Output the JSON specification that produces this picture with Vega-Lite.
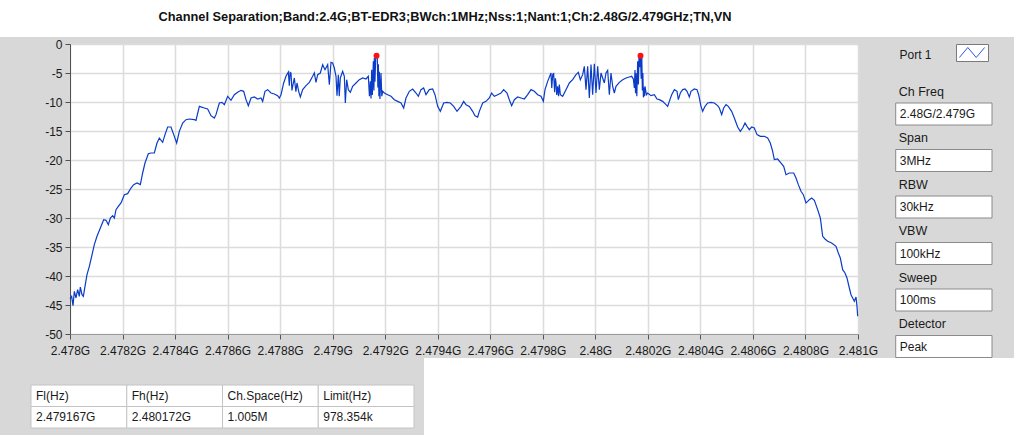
{
  "$schema": "https://vega.github.io/schema/vega-lite/v6.json",
  "background": "#d8d8d8",
  "padding": 0,
  "spacing": 0,
  "config": {"font": "Liberation Sans", "view": {"stroke": null}},
  "datasets": {
    "heading": [{"title": "Channel Separation;Band:2.4G;BT-EDR3;BWch:1MHz;Nss:1;Nant:1;Ch:2.48G/2.479GHz;TN,VN"}],
    "peaks": [{"freq": 2479.167, "level": -2.01}, {"freq": 2480.172, "level": -2.01}],
    "port": [{"name": "Port 1"}],
    "icon": [{"step": 0, "shape": 0}, {"step": 1, "shape": 1}, {"step": 2, "shape": 0}, {"step": 3, "shape": 1}],
    "params": [
      {"param": "Ch Freq", "value": "2.48G/2.479G"},
      {"param": "Span", "value": "3MHz"},
      {"param": "RBW", "value": "30kHz"},
      {"param": "VBW", "value": "100kHz"},
      {"param": "Sweep", "value": "100ms"},
      {"param": "Detector", "value": "Peak"}
    ],
    "table": [
      {"column": "Fl(Hz)", "row": "header", "text": "Fl(Hz)"},
      {"column": "Fh(Hz)", "row": "header", "text": "Fh(Hz)"},
      {"column": "Ch.Space(Hz)", "row": "header", "text": "Ch.Space(Hz)"},
      {"column": "Limit(Hz)", "row": "header", "text": "Limit(Hz)"},
      {"column": "Fl(Hz)", "row": "value", "text": "2.479167G"},
      {"column": "Fh(Hz)", "row": "value", "text": "2.480172G"},
      {"column": "Ch.Space(Hz)", "row": "value", "text": "1.005M"},
      {"column": "Limit(Hz)", "row": "value", "text": "978.354k"}
    ],
    "spectrum": [
      {"freq": 2478.0000, "level": -43.97}, {"freq": 2478.0063, "level": -43.51}, {"freq": 2478.0114, "level": -45.11},
      {"freq": 2478.0165, "level": -42.64}, {"freq": 2478.0228, "level": -43.79}, {"freq": 2478.0292, "level": -42.36},
      {"freq": 2478.0355, "level": -43.51}, {"freq": 2478.0393, "level": -41.90}, {"freq": 2478.0457, "level": -43.22},
      {"freq": 2478.0508, "level": -43.51}, {"freq": 2478.0571, "level": -41.78}, {"freq": 2478.0647, "level": -39.77},
      {"freq": 2478.0736, "level": -38.33}, {"freq": 2478.0825, "level": -36.61}, {"freq": 2478.0926, "level": -34.60},
      {"freq": 2478.1028, "level": -33.16}, {"freq": 2478.1155, "level": -31.72}, {"freq": 2478.1282, "level": -30.29},
      {"freq": 2478.1371, "level": -30.40}, {"freq": 2478.1459, "level": -31.15}, {"freq": 2478.1536, "level": -30.00},
      {"freq": 2478.1624, "level": -29.60}, {"freq": 2478.1688, "level": -30.00}, {"freq": 2478.1751, "level": -28.56},
      {"freq": 2478.1840, "level": -27.99}, {"freq": 2478.1942, "level": -27.41}, {"freq": 2478.2069, "level": -25.98},
      {"freq": 2478.2195, "level": -25.80}, {"freq": 2478.2322, "level": -24.83}, {"freq": 2478.2424, "level": -24.25},
      {"freq": 2478.2551, "level": -23.97}, {"freq": 2478.2678, "level": -24.25}, {"freq": 2478.2766, "level": -22.24},
      {"freq": 2478.2855, "level": -20.52}, {"freq": 2478.2982, "level": -18.91}, {"freq": 2478.3084, "level": -18.79},
      {"freq": 2478.3211, "level": -18.79}, {"freq": 2478.3312, "level": -17.07}, {"freq": 2478.3401, "level": -16.21},
      {"freq": 2478.3528, "level": -16.95}, {"freq": 2478.3617, "level": -15.63}, {"freq": 2478.3718, "level": -14.31},
      {"freq": 2478.3845, "level": -14.31}, {"freq": 2478.3972, "level": -15.92}, {"freq": 2478.4061, "level": -17.07},
      {"freq": 2478.4162, "level": -15.06}, {"freq": 2478.4289, "level": -13.62}, {"freq": 2478.4416, "level": -13.05},
      {"freq": 2478.4543, "level": -12.93}, {"freq": 2478.4734, "level": -13.05}, {"freq": 2478.4797, "level": -13.16},
      {"freq": 2478.4924, "level": -10.75}, {"freq": 2478.5114, "level": -11.03}, {"freq": 2478.5241, "level": -11.21},
      {"freq": 2478.5368, "level": -12.36}, {"freq": 2478.5495, "level": -12.76}, {"freq": 2478.5558, "level": -12.18},
      {"freq": 2478.5685, "level": -10.17}, {"freq": 2478.5787, "level": -10.06}, {"freq": 2478.5876, "level": -10.46},
      {"freq": 2478.6003, "level": -9.02}, {"freq": 2478.6129, "level": -9.71}, {"freq": 2478.6256, "level": -8.74},
      {"freq": 2478.6383, "level": -8.33}, {"freq": 2478.6510, "level": -7.99}, {"freq": 2478.6612, "level": -8.16},
      {"freq": 2478.6701, "level": -9.60}, {"freq": 2478.6789, "level": -10.63}, {"freq": 2478.6891, "level": -9.31},
      {"freq": 2478.7018, "level": -9.14}, {"freq": 2478.7145, "level": -9.48}, {"freq": 2478.7272, "level": -9.31},
      {"freq": 2478.7335, "level": -9.89}, {"freq": 2478.7424, "level": -8.16}, {"freq": 2478.7525, "level": -7.87},
      {"freq": 2478.7652, "level": -8.45}, {"freq": 2478.7779, "level": -8.62}, {"freq": 2478.7906, "level": -8.91},
      {"freq": 2478.7970, "level": -9.31}, {"freq": 2478.8033, "level": -8.74}, {"freq": 2478.8135, "level": -6.72},
      {"freq": 2478.8223, "level": -5.57}, {"freq": 2478.8312, "level": -4.83}, {"freq": 2478.8350, "level": -7.20},
      {"freq": 2478.8380, "level": -4.90}, {"freq": 2478.8414, "level": -5.00}, {"freq": 2478.8450, "level": -8.00},
      {"freq": 2478.8477, "level": -7.30}, {"freq": 2478.8541, "level": -5.86}, {"freq": 2478.8600, "level": -8.20},
      {"freq": 2478.8642, "level": -6.72}, {"freq": 2478.8706, "level": -8.16}, {"freq": 2478.8769, "level": -9.14},
      {"freq": 2478.8858, "level": -7.87}, {"freq": 2478.8985, "level": -7.18}, {"freq": 2478.9112, "level": -6.61},
      {"freq": 2478.9239, "level": -5.57}, {"freq": 2478.9302, "level": -5.00}, {"freq": 2478.9365, "level": -6.61},
      {"freq": 2478.9429, "level": -5.29}, {"freq": 2478.9530, "level": -5.00}, {"freq": 2478.9619, "level": -3.56},
      {"freq": 2478.9708, "level": -4.43}, {"freq": 2478.9810, "level": -3.56}, {"freq": 2478.9873, "level": -7.01},
      {"freq": 2478.9937, "level": -3.16}, {"freq": 2479.0000, "level": -3.28}, {"freq": 2479.0063, "level": -4.14},
      {"freq": 2479.0127, "level": -5.57}, {"freq": 2479.0165, "level": -8.91}, {"freq": 2479.0216, "level": -5.29},
      {"freq": 2479.0250, "level": -9.00}, {"freq": 2479.0292, "level": -5.86}, {"freq": 2479.0381, "level": -4.71},
      {"freq": 2479.0444, "level": -5.57}, {"freq": 2479.0482, "level": -10.17}, {"freq": 2479.0533, "level": -6.15},
      {"freq": 2479.0596, "level": -7.87}, {"freq": 2479.0673, "level": -8.33}, {"freq": 2479.0761, "level": -7.30},
      {"freq": 2479.0888, "level": -6.72}, {"freq": 2479.1015, "level": -6.15}, {"freq": 2479.1142, "level": -5.86},
      {"freq": 2479.1269, "level": -6.03}, {"freq": 2479.1358, "level": -5.57}, {"freq": 2479.1400, "level": -9.00},
      {"freq": 2479.1434, "level": -6.44}, {"freq": 2479.1460, "level": -9.40}, {"freq": 2479.1485, "level": -4.43},
      {"freq": 2479.1510, "level": -8.80}, {"freq": 2479.1548, "level": -2.99}, {"freq": 2479.1570, "level": -8.00},
      {"freq": 2479.1586, "level": -2.41}, {"freq": 2479.1610, "level": -6.50}, {"freq": 2479.1640, "level": -2.20},
      {"freq": 2479.1670, "level": -2.01}, {"freq": 2479.1700, "level": -2.40}, {"freq": 2479.1720, "level": -7.50},
      {"freq": 2479.1740, "level": -3.50}, {"freq": 2479.1760, "level": -9.00}, {"freq": 2479.1777, "level": -4.80},
      {"freq": 2479.1800, "level": -9.50}, {"freq": 2479.1840, "level": -5.00}, {"freq": 2479.1870, "level": -9.00},
      {"freq": 2479.1904, "level": -8.16}, {"freq": 2479.1967, "level": -8.45}, {"freq": 2479.2094, "level": -8.74},
      {"freq": 2479.2221, "level": -9.02}, {"freq": 2479.2348, "level": -9.60}, {"freq": 2479.2475, "level": -9.89},
      {"freq": 2479.2602, "level": -10.17}, {"freq": 2479.2703, "level": -11.03}, {"freq": 2479.2792, "level": -9.31},
      {"freq": 2479.2919, "level": -8.16}, {"freq": 2479.3046, "level": -7.76}, {"freq": 2479.3173, "level": -8.45},
      {"freq": 2479.3261, "level": -9.02}, {"freq": 2479.3363, "level": -7.87}, {"freq": 2479.3464, "level": -7.59},
      {"freq": 2479.3553, "level": -8.74}, {"freq": 2479.3680, "level": -7.87}, {"freq": 2479.3807, "level": -7.76},
      {"freq": 2479.3896, "level": -8.74}, {"freq": 2479.3997, "level": -10.75}, {"freq": 2479.4099, "level": -11.61},
      {"freq": 2479.4226, "level": -10.17}, {"freq": 2479.4353, "level": -10.06}, {"freq": 2479.4480, "level": -10.17},
      {"freq": 2479.4607, "level": -10.75}, {"freq": 2479.4734, "level": -11.61}, {"freq": 2479.4886, "level": -10.75},
      {"freq": 2479.4987, "level": -9.89}, {"freq": 2479.5076, "level": -10.46}, {"freq": 2479.5203, "level": -10.75},
      {"freq": 2479.5330, "level": -11.61}, {"freq": 2479.5419, "level": -12.36}, {"freq": 2479.5520, "level": -12.59},
      {"freq": 2479.5584, "level": -11.61}, {"freq": 2479.5711, "level": -10.17}, {"freq": 2479.5838, "level": -9.89},
      {"freq": 2479.5964, "level": -9.31}, {"freq": 2479.6053, "level": -8.45}, {"freq": 2479.6155, "level": -9.02},
      {"freq": 2479.6282, "level": -8.74}, {"freq": 2479.6409, "level": -8.45}, {"freq": 2479.6510, "level": -7.87},
      {"freq": 2479.6637, "level": -8.45}, {"freq": 2479.6726, "level": -9.60}, {"freq": 2479.6815, "level": -10.63},
      {"freq": 2479.6916, "level": -9.60}, {"freq": 2479.7043, "level": -9.14}, {"freq": 2479.7170, "level": -9.31},
      {"freq": 2479.7297, "level": -9.48}, {"freq": 2479.7424, "level": -8.74}, {"freq": 2479.7551, "level": -7.87},
      {"freq": 2479.7678, "level": -8.16}, {"freq": 2479.7805, "level": -8.74}, {"freq": 2479.7931, "level": -9.02},
      {"freq": 2479.8020, "level": -9.89}, {"freq": 2479.8084, "level": -7.87}, {"freq": 2479.8185, "level": -6.44},
      {"freq": 2479.8312, "level": -5.00}, {"freq": 2479.8340, "level": -7.60}, {"freq": 2479.8380, "level": -5.20},
      {"freq": 2479.8414, "level": -5.11}, {"freq": 2479.8450, "level": -8.30}, {"freq": 2479.8480, "level": -5.90},
      {"freq": 2479.8503, "level": -6.72}, {"freq": 2479.8530, "level": -8.80}, {"freq": 2479.8566, "level": -7.30},
      {"freq": 2479.8600, "level": -9.00}, {"freq": 2479.8630, "level": -7.00}, {"freq": 2479.8668, "level": -8.74},
      {"freq": 2479.8756, "level": -9.02}, {"freq": 2479.8883, "level": -7.87}, {"freq": 2479.9010, "level": -6.72},
      {"freq": 2479.9137, "level": -6.15}, {"freq": 2479.9264, "level": -5.29}, {"freq": 2479.9353, "level": -4.89},
      {"freq": 2479.9429, "level": -6.15}, {"freq": 2479.9518, "level": -5.29}, {"freq": 2479.9581, "level": -3.85},
      {"freq": 2479.9645, "level": -7.87}, {"freq": 2479.9708, "level": -3.85}, {"freq": 2479.9772, "level": -9.31},
      {"freq": 2479.9835, "level": -3.56}, {"freq": 2479.9898, "level": -8.74}, {"freq": 2479.9962, "level": -3.39},
      {"freq": 2480.0025, "level": -8.45}, {"freq": 2480.0089, "level": -3.85}, {"freq": 2480.0152, "level": -7.87},
      {"freq": 2480.0216, "level": -5.00}, {"freq": 2480.0279, "level": -5.86}, {"freq": 2480.0343, "level": -6.72},
      {"freq": 2480.0406, "level": -5.00}, {"freq": 2480.0470, "level": -4.54}, {"freq": 2480.0533, "level": -8.74},
      {"freq": 2480.0596, "level": -5.00}, {"freq": 2480.0660, "level": -7.30}, {"freq": 2480.0723, "level": -8.45},
      {"freq": 2480.0787, "level": -7.30}, {"freq": 2480.0914, "level": -6.61}, {"freq": 2480.1041, "level": -6.15},
      {"freq": 2480.1168, "level": -5.86}, {"freq": 2480.1294, "level": -5.69}, {"freq": 2480.1383, "level": -5.57},
      {"freq": 2480.1447, "level": -6.03}, {"freq": 2480.1485, "level": -7.59}, {"freq": 2480.1510, "level": -4.50},
      {"freq": 2480.1530, "level": -8.50}, {"freq": 2480.1548, "level": -5.00}, {"freq": 2480.1580, "level": -9.00},
      {"freq": 2480.1612, "level": -2.99}, {"freq": 2480.1640, "level": -7.00}, {"freq": 2480.1662, "level": -2.24},
      {"freq": 2480.1690, "level": -4.00}, {"freq": 2480.1720, "level": -2.01}, {"freq": 2480.1745, "level": -6.00},
      {"freq": 2480.1770, "level": -2.41}, {"freq": 2480.1790, "level": -8.00}, {"freq": 2480.1810, "level": -5.00},
      {"freq": 2480.1830, "level": -9.20}, {"freq": 2480.1850, "level": -7.50}, {"freq": 2480.1870, "level": -9.00},
      {"freq": 2480.1891, "level": -7.30}, {"freq": 2480.1942, "level": -8.74}, {"freq": 2480.1992, "level": -8.45},
      {"freq": 2480.2119, "level": -8.91}, {"freq": 2480.2246, "level": -8.74}, {"freq": 2480.2348, "level": -9.48},
      {"freq": 2480.2437, "level": -9.60}, {"freq": 2480.2563, "level": -9.89}, {"freq": 2480.2690, "level": -10.46},
      {"freq": 2480.2754, "level": -10.75}, {"freq": 2480.2817, "level": -9.89}, {"freq": 2480.2906, "level": -8.74},
      {"freq": 2480.3008, "level": -7.87}, {"freq": 2480.3110, "level": -8.16}, {"freq": 2480.3160, "level": -9.60},
      {"freq": 2480.3236, "level": -8.45}, {"freq": 2480.3325, "level": -7.87}, {"freq": 2480.3414, "level": -7.76},
      {"freq": 2480.3490, "level": -8.16}, {"freq": 2480.3579, "level": -9.14}, {"freq": 2480.3642, "level": -8.16},
      {"freq": 2480.3769, "level": -7.76}, {"freq": 2480.3871, "level": -7.87}, {"freq": 2480.3934, "level": -8.74},
      {"freq": 2480.4023, "level": -10.75}, {"freq": 2480.4086, "level": -11.61}, {"freq": 2480.4175, "level": -10.75},
      {"freq": 2480.4277, "level": -10.17}, {"freq": 2480.4404, "level": -10.06}, {"freq": 2480.4530, "level": -10.17},
      {"freq": 2480.4657, "level": -10.63}, {"freq": 2480.4721, "level": -11.03}, {"freq": 2480.4810, "level": -12.18},
      {"freq": 2480.4886, "level": -11.03}, {"freq": 2480.4975, "level": -10.46}, {"freq": 2480.5063, "level": -10.75},
      {"freq": 2480.5190, "level": -11.61}, {"freq": 2480.5292, "level": -12.76}, {"freq": 2480.5419, "level": -14.31},
      {"freq": 2480.5520, "level": -15.06}, {"freq": 2480.5609, "level": -14.48}, {"freq": 2480.5698, "level": -13.62},
      {"freq": 2480.5774, "level": -14.20}, {"freq": 2480.5863, "level": -14.77}, {"freq": 2480.5952, "level": -14.31},
      {"freq": 2480.6053, "level": -14.48}, {"freq": 2480.6155, "level": -15.63}, {"freq": 2480.6282, "level": -15.92},
      {"freq": 2480.6434, "level": -15.92}, {"freq": 2480.6561, "level": -16.21}, {"freq": 2480.6662, "level": -17.07},
      {"freq": 2480.6751, "level": -18.51}, {"freq": 2480.6815, "level": -19.94}, {"freq": 2480.6942, "level": -19.83},
      {"freq": 2480.7069, "level": -20.52}, {"freq": 2480.7170, "level": -21.09}, {"freq": 2480.7259, "level": -22.53},
      {"freq": 2480.7386, "level": -22.24}, {"freq": 2480.7551, "level": -22.24}, {"freq": 2480.7640, "level": -23.10},
      {"freq": 2480.7728, "level": -24.25}, {"freq": 2480.7830, "level": -25.40}, {"freq": 2480.7919, "level": -25.98},
      {"freq": 2480.8020, "level": -27.41}, {"freq": 2480.8084, "level": -27.13}, {"freq": 2480.8147, "level": -26.84},
      {"freq": 2480.8236, "level": -26.55}, {"freq": 2480.8338, "level": -26.95}, {"freq": 2480.8464, "level": -28.56},
      {"freq": 2480.8566, "level": -30.00}, {"freq": 2480.8655, "level": -33.16}, {"freq": 2480.8744, "level": -33.62},
      {"freq": 2480.8845, "level": -34.02}, {"freq": 2480.8997, "level": -34.31}, {"freq": 2480.9162, "level": -34.89},
      {"freq": 2480.9251, "level": -36.03}, {"freq": 2480.9327, "level": -36.90}, {"freq": 2480.9416, "level": -38.91},
      {"freq": 2480.9505, "level": -39.48}, {"freq": 2480.9581, "level": -40.34}, {"freq": 2480.9670, "level": -42.07},
      {"freq": 2480.9734, "level": -43.22}, {"freq": 2480.9797, "level": -43.79}, {"freq": 2480.9860, "level": -44.37},
      {"freq": 2480.9924, "level": -43.62}, {"freq": 2480.9962, "level": -45.23}, {"freq": 2480.9987, "level": -46.95}
    ]
  },
  "vconcat": [
    {
      "width": 1014,
      "height": 37,
      "view": {"fill": "#ffffff", "stroke": null},
      "data": {"name": "heading"},
      "mark": {"type": "text", "fontWeight": "bold", "fontSize": 12.8, "color": "#111111", "dx": -62, "dy": -2},
      "encoding": {"text": {"field": "title"}}
    },
    {
      "hconcat": [
        {
          "width": 20,
          "height": 1,
          "data": {"values": []},
          "mark": "text"
        },
        {
          "width": 788,
          "height": 290,
          "view": {"fill": "#ffffff", "stroke": "#9a9a9a"},
          "encoding": {
            "x": {
              "field": "freq", "type": "quantitative",
              "scale": {"domain": [2478, 2481], "nice": false, "zero": false},
              "axis": {
                "title": null,
                "values": [2478, 2478.2, 2478.4, 2478.6, 2478.8, 2479, 2479.2, 2479.4, 2479.6, 2479.8, 2480, 2480.2, 2480.4, 2480.6, 2480.8, 2481],
                "labelExpr": "format(datum.value / 1000, '.4~f') + 'G'",
                "labelFontSize": 12, "labelColor": "#1a1a1a", "labelFlush": false, "labelOverlap": false,
                "tickColor": "#555555", "tickSize": 5, "labelPadding": 6,
                "domainColor": "#9a9a9a", "gridColor": "#dcdcdc", "gridWidth": 1.5
              }
            },
            "y": {
              "field": "level", "type": "quantitative",
              "scale": {"domain": [-50, 0], "nice": false, "zero": false},
              "axis": {
                "title": null,
                "values": [-50, -45, -40, -35, -30, -25, -20, -15, -10, -5, 0],
                "labelExpr": "'' + datum.value",
                "minExtent": 40,
                "labelFontSize": 12, "labelColor": "#1a1a1a", "labelOverlap": false,
                "tickColor": "#505050", "tickSize": 5, "labelPadding": 3,
                "domainColor": "#505050", "gridColor": "#dcdcdc", "gridWidth": 1.5
              }
            }
          },
          "layer": [
            {
              "data": {"name": "spectrum"},
              "mark": {"type": "line", "color": "#0a3cc8", "strokeWidth": 1.2}
            },
            {
              "data": {"name": "peaks"},
              "mark": {"type": "point", "filled": true, "color": "#ff1010", "size": 36, "opacity": 1}
            }
          ]
        },
        {
          "vconcat": [
            {
              "hconcat": [
                {
                  "width": 55,
                  "height": 22,
                  "data": {"name": "port"},
                  "mark": {"type": "text", "fontSize": 12, "color": "#1a1a1a"},
                  "encoding": {"text": {"field": "name"}}
                },
                {
                  "width": 32,
                  "height": 17,
                  "view": {"fill": "#ffffff", "stroke": "#7a7a7a"},
                  "data": {"name": "icon"},
                  "mark": {"type": "line", "color": "#2f55e0", "strokeWidth": 1},
                  "encoding": {
                    "x": {"field": "step", "type": "quantitative", "scale": {"domain": [-0.4, 3.4], "nice": false, "zero": false}, "axis": null},
                    "y": {"field": "shape", "type": "quantitative", "scale": {"domain": [-0.35, 1.35], "nice": false, "zero": false}, "axis": null}
                  }
                }
              ],
              "spacing": 12
            },
            {
              "width": 104,
              "height": 279,
              "data": {"name": "params"},
              "encoding": {
                "y": {
                  "field": "param", "type": "nominal", "sort": null,
                  "scale": {"paddingInner": 0, "paddingOuter": 0},
                  "axis": null
                }
              },
              "layer": [
                {
                  "mark": {"type": "bar", "size": 22, "yOffset": 12.75, "color": "#ffffff", "stroke": "#8a8a8a", "strokeWidth": 1},
                  "encoding": {"x": {"datum": 1, "type": "quantitative", "scale": {"domain": [-0.08, 1], "nice": false, "zero": false}, "axis": null}}
                },
                {
                  "mark": {"type": "text", "align": "left", "dx": 3, "dy": -9.5, "fontSize": 12.5, "color": "#1a1a1a"},
                  "encoding": {"x": {"datum": 0, "type": "quantitative", "axis": null}, "text": {"field": "param"}}
                },
                {
                  "mark": {"type": "text", "align": "left", "dx": 4, "dy": 12.75, "fontSize": 12, "color": "#1a1a1a"},
                  "encoding": {"x": {"datum": 0, "type": "quantitative", "axis": null}, "text": {"field": "value"}}
                }
              ]
            }
          ],
          "spacing": 12
        }
      ],
      "spacing": 9
    },
    {
      "hconcat": [
        {
          "width": 414,
          "height": 70,
          "data": {"name": "table"},
          "encoding": {
            "x": {
              "field": "column", "type": "nominal", "sort": null,
              "scale": {"paddingInner": 0, "paddingOuter": 0.1619, "align": 1},
              "axis": null
            },
            "y": {
              "field": "row", "type": "nominal", "sort": null,
              "scale": {"paddingInner": 0, "paddingOuter": 0.628, "align": 1},
              "axis": null
            }
          },
          "layer": [
            {"mark": {"type": "rect", "fill": "#ffffff", "stroke": "#c4c4c4", "strokeWidth": 1}},
            {
              "mark": {"type": "text", "align": "left", "dx": 5, "fontSize": 12, "color": "#1a1a1a"},
              "encoding": {
                "x": {"field": "column", "type": "nominal", "sort": null, "bandPosition": 0},
                "text": {"field": "text"}
              }
            }
          ]
        },
        {
          "width": 591,
          "height": 77,
          "view": {"fill": "#ffffff", "stroke": null},
          "data": {"values": []},
          "mark": "text"
        }
      ],
      "spacing": 9
    }
  ]
}
